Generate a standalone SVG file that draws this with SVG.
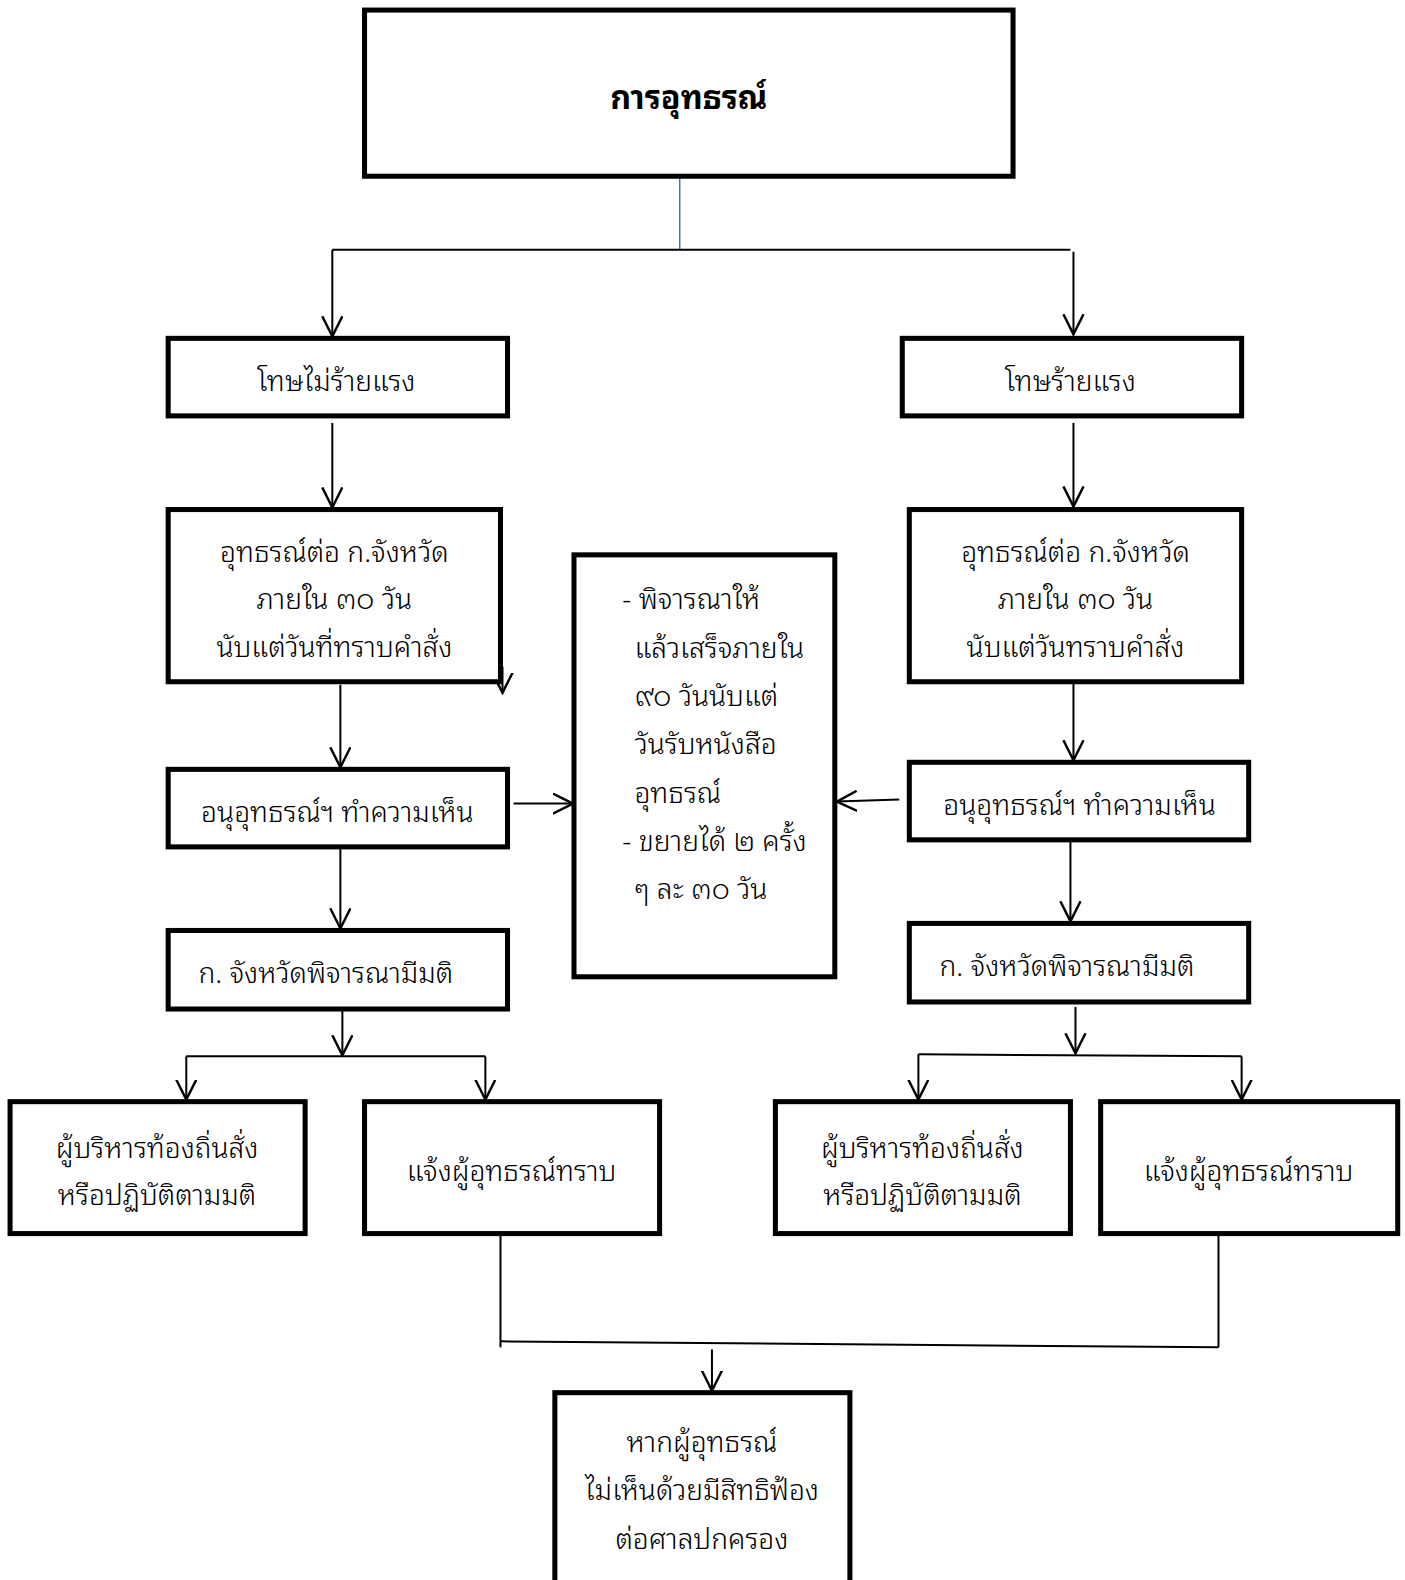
<svg xmlns="http://www.w3.org/2000/svg" width="1405" height="1580" viewBox="0 0 1405 1580">
<style>
.box{fill:#fff;stroke:#000;stroke-width:5}
.t{font-family:"Noto Sans Thai Looped","Garuda","Loma","Norasi","Noto Sans Thai","Noto Sans","DejaVu Sans",sans-serif;font-size:28px;font-weight:300;fill:#000;text-anchor:middle}
.l{text-anchor:start}
.b{font-weight:bold;font-size:32px}
.c{fill:none;stroke:#000;stroke-width:2}
.a{marker-end:url(#arr)}
</style>
<defs>
<marker id="arr" markerUnits="userSpaceOnUse" viewBox="0 0 22 22" refX="20" refY="11" markerWidth="22" markerHeight="22" orient="auto">
<path d="M0,1 L20,11 L0,21" fill="none" stroke="#000" stroke-width="2.4"/>
</marker>
</defs>
<rect width="1405" height="1580" fill="#fff"/>
<g transform="scale(1.007)">
<g id="connectors">
<line x1="675" y1="177" x2="675" y2="248" stroke="#4472C4" stroke-width="1.5"/>
<path class="c" d="M330,248 H1063"/>
<path class="c a" d="M330,248 V334"/>
<path class="c a" d="M1066,250 V332"/>
<path class="c a" d="M330,420 V504"/>
<path class="c a" d="M1066,420 V503"/>
<path class="c a" d="M499,662 V688"/>
<path class="c a" d="M338,680 V762"/>
<path class="c a" d="M510,798 H569"/>
<path class="c a" d="M1066,679 V755"/>
<path class="c a" d="M893,794 L831,796"/>
<path class="c a" d="M338,843 V922"/>
<path class="c a" d="M1063,836 V915"/>
<path class="c a" d="M340,1004 V1048"/>
<path class="c" d="M185,1049 H482"/>
<path class="c a" d="M185,1049 V1092"/>
<path class="c a" d="M482,1049 V1092"/>
<path class="c a" d="M1068,1000 V1046"/>
<path class="c" d="M912,1047 L1233,1049"/>
<path class="c a" d="M912,1047 V1092"/>
<path class="c a" d="M1233,1049 V1092"/>
<path class="c" d="M497,1227 V1338"/>
<path class="c" d="M1210,1227 V1338"/>
<path class="c" d="M497,1332 L1210,1338"/>
<path class="c a" d="M707,1340 V1381"/>
</g>
<g id="n-appeal">
<rect class="box" x="362" y="10" width="644" height="165"/>
<text class="t b" x="684" y="108">การอุทธรณ์</text>
</g>
<g id="n-minor">
<rect class="box" x="167" y="336" width="337" height="77"/>
<text class="t" x="334" y="388">โทษไม่ร้ายแรง</text>
</g>
<g id="n-severe">
<rect class="box" x="896" y="336" width="337" height="77"/>
<text class="t" x="1063" y="388">โทษร้ายแรง</text>
</g>
<g id="n-left-appeal">
<rect class="box" x="167" y="506" width="330" height="171"/>
<text class="t" x="332" y="558">อุทธรณ์ต่อ ก.จังหวัด</text>
<text class="t" x="332" y="605">ภายใน ๓๐ วัน</text>
<text class="t" x="332" y="652">นับแต่วันที่ทราบคำสั่ง</text>
</g>
<g id="n-right-appeal">
<rect class="box" x="903" y="506" width="330" height="171"/>
<text class="t" x="1068" y="558">อุทธรณ์ต่อ ก.จังหวัด</text>
<text class="t" x="1068" y="605">ภายใน ๓๐ วัน</text>
<text class="t" x="1068" y="652">นับแต่วันทราบคำสั่ง</text>
</g>
<g id="n-center">
<rect class="box" x="570" y="551" width="259" height="419"/>
<text class="t l" x="618" y="605">- พิจารณาให้</text>
<text class="t l" x="630" y="653">แล้วเสร็จภายใน</text>
<text class="t l" x="630" y="701">๙๐ วันนับแต่</text>
<text class="t l" x="630" y="749">วันรับหนังสือ</text>
<text class="t l" x="630" y="797">อุทธรณ์</text>
<text class="t l" x="618" y="845">- ขยายได้ ๒ ครั้ง</text>
<text class="t l" x="630" y="893">ๆ ละ ๓๐ วัน</text>
</g>
<g id="n-left-sub">
<rect class="box" x="167" y="764" width="337" height="77"/>
<text class="t" x="335" y="816">อนุอุทธรณ์ฯ ทำความเห็น</text>
</g>
<g id="n-right-sub">
<rect class="box" x="903" y="757" width="337" height="77"/>
<text class="t" x="1072" y="809">อนุอุทธรณ์ฯ ทำความเห็น</text>
</g>
<g id="n-left-board">
<rect class="box" x="167" y="924" width="337" height="78"/>
<text class="t l" x="197" y="976">ก. จังหวัดพิจารณามีมติ</text>
</g>
<g id="n-right-board">
<rect class="box" x="903" y="917" width="337" height="78"/>
<text class="t l" x="933" y="969">ก. จังหวัดพิจารณามีมติ</text>
</g>
<g id="n-left-exec">
<rect class="box" x="10" y="1094" width="293" height="131"/>
<text class="t" x="156" y="1150">ผู้บริหารท้องถิ่นสั่ง</text>
<text class="t" x="156" y="1197">หรือปฏิบัติตามมติ</text>
</g>
<g id="n-left-notify">
<rect class="box" x="362" y="1094" width="293" height="131"/>
<text class="t" x="508" y="1173">แจ้งผู้อุทธรณ์ทราบ</text>
</g>
<g id="n-right-exec">
<rect class="box" x="770" y="1094" width="293" height="131"/>
<text class="t" x="916" y="1150">ผู้บริหารท้องถิ่นสั่ง</text>
<text class="t" x="916" y="1197">หรือปฏิบัติตามมติ</text>
</g>
<g id="n-right-notify">
<rect class="box" x="1093" y="1094" width="295" height="131"/>
<text class="t" x="1240" y="1173">แจ้งผู้อุทธรณ์ทราบ</text>
</g>
<g id="n-court">
<rect class="box" x="551" y="1383" width="293" height="220"/>
<text class="t" x="697" y="1442">หากผู้อุทธรณ์</text>
<text class="t" x="697" y="1490">ไม่เห็นด้วยมีสิทธิฟ้อง</text>
<text class="t" x="697" y="1538">ต่อศาลปกครอง</text>
</g>
</g>
</svg>
